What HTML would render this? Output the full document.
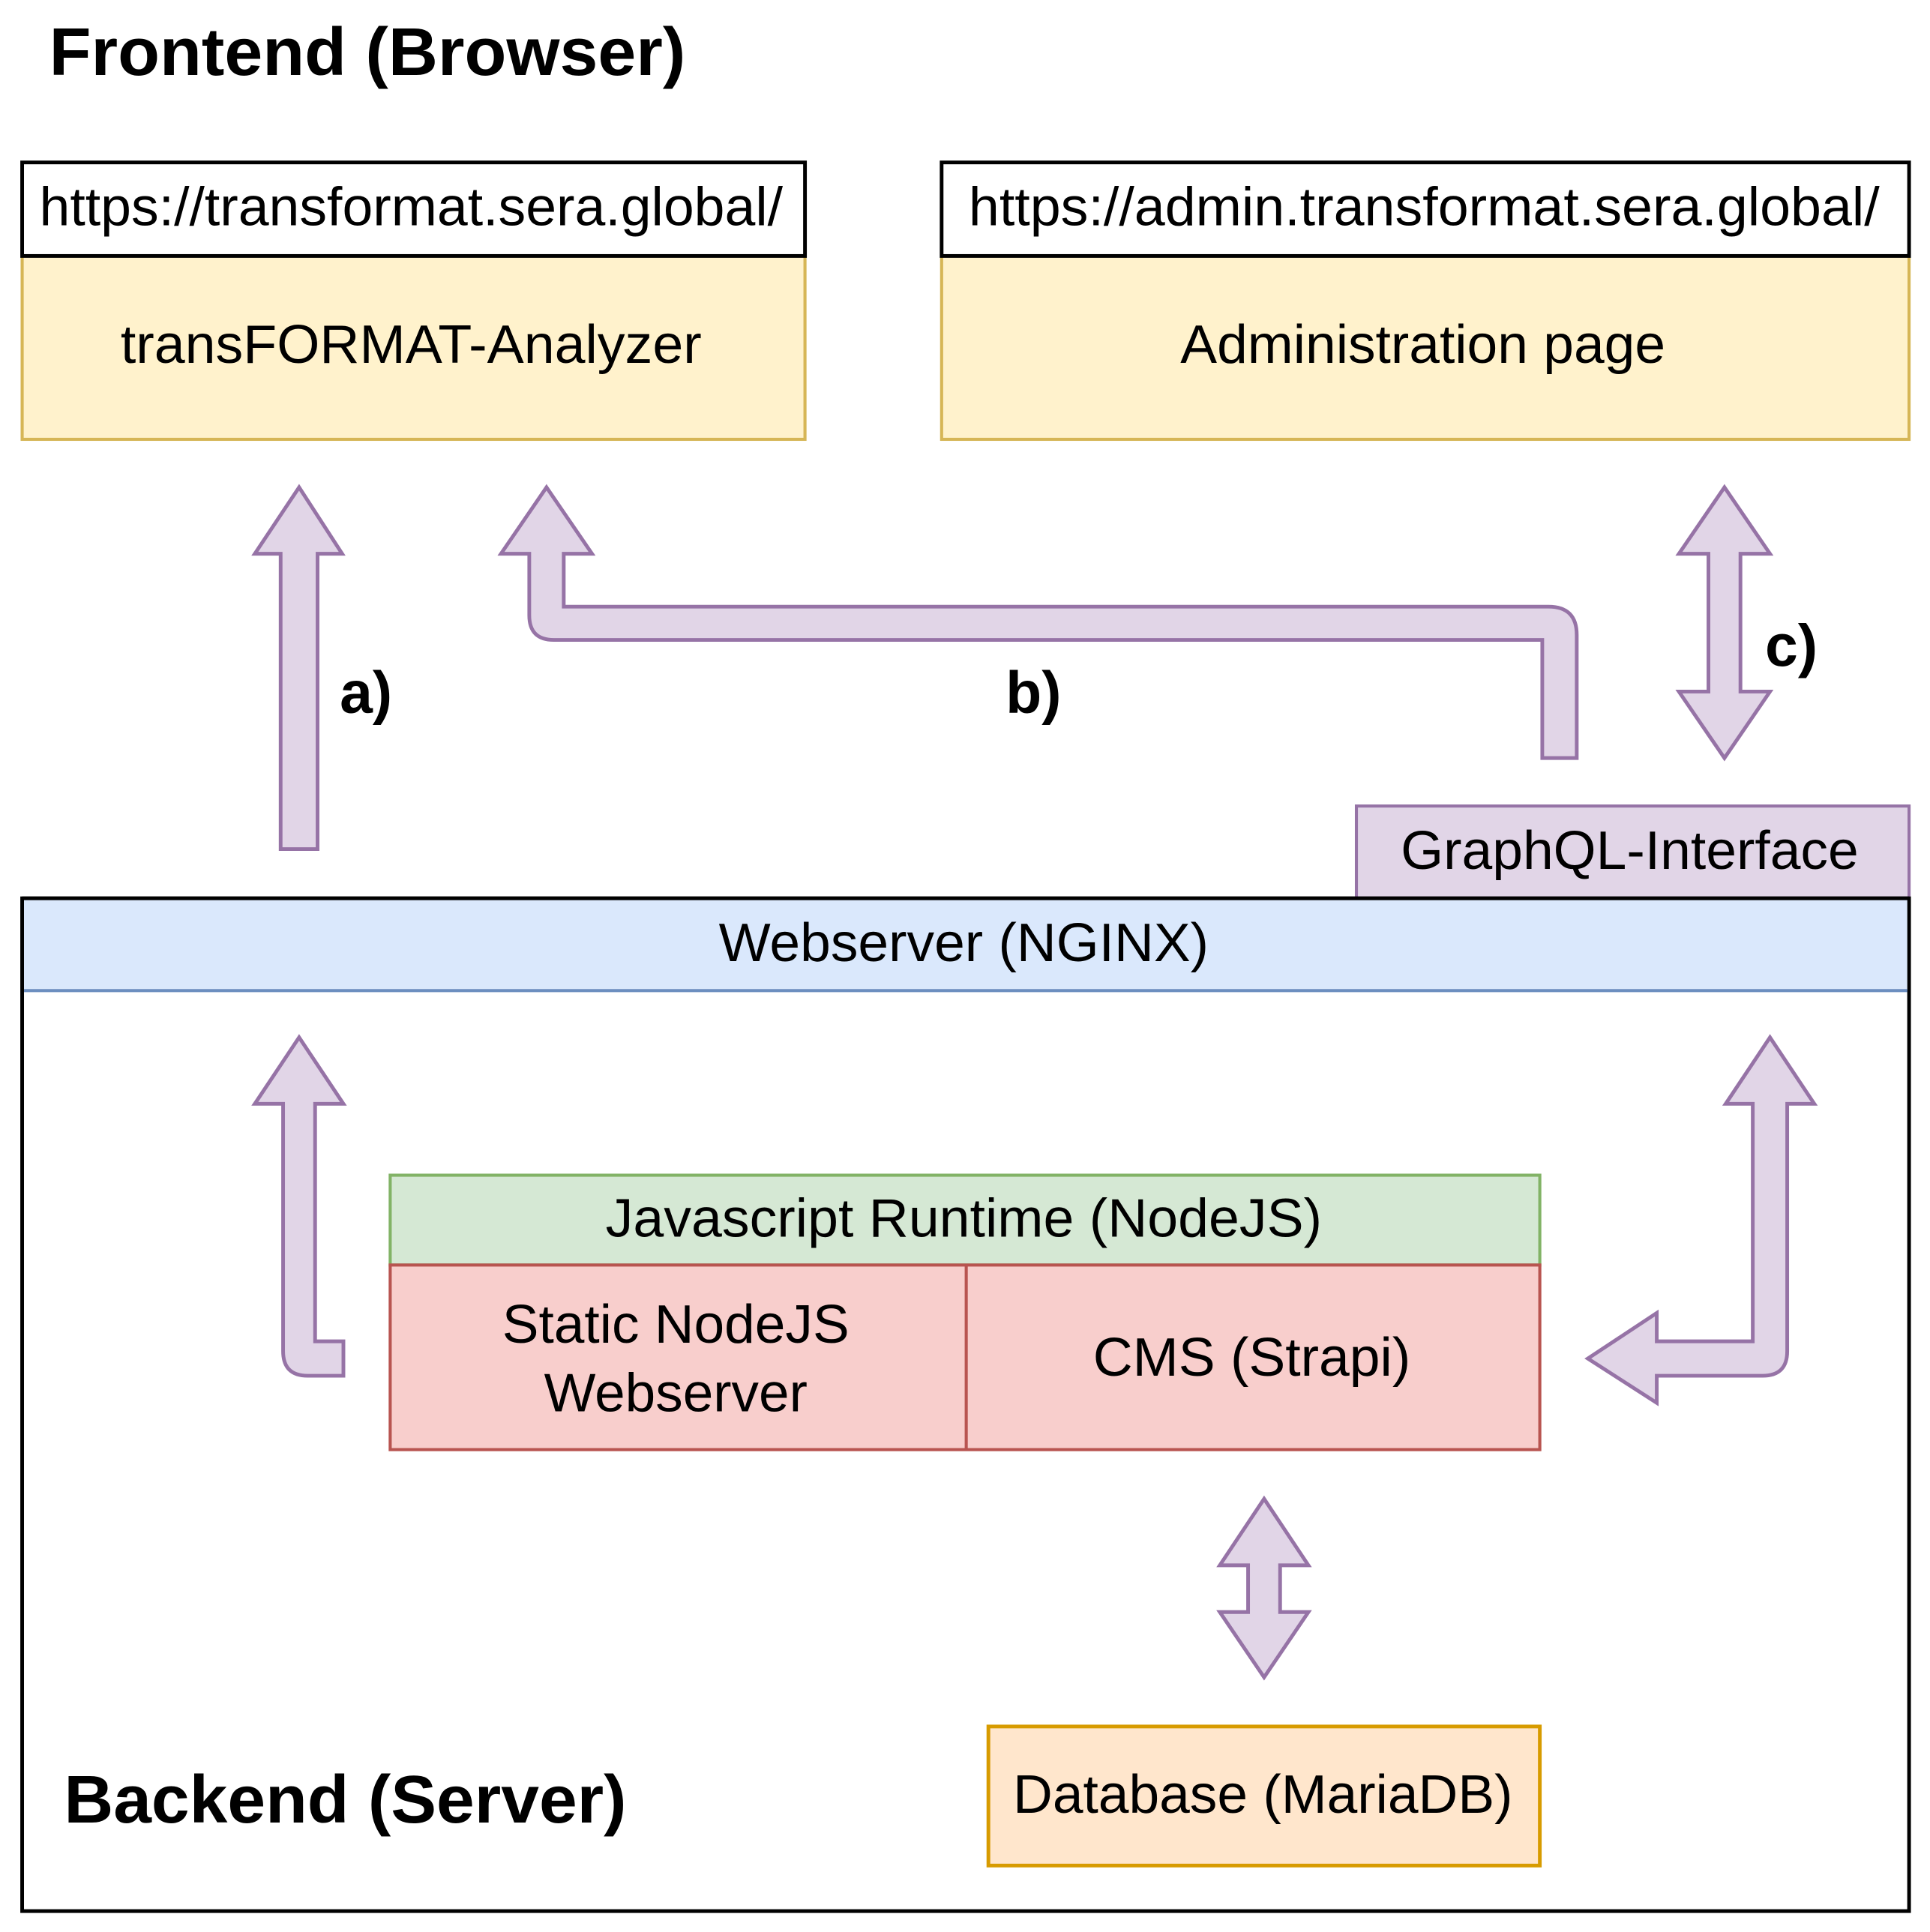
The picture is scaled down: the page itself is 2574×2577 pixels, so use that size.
<!DOCTYPE html>
<html><head><meta charset="utf-8"><style>
html,body{margin:0;padding:0;background:#fff;}
svg{display:block;}
text{font-family:"Liberation Sans",Arial,sans-serif;fill:#000;}
</style></head><body>
<svg width="2574" height="2577" viewBox="0 0 1568 1570" preserveAspectRatio="none" xmlns="http://www.w3.org/2000/svg">
<rect x="0" y="0" width="1568" height="1570" fill="#fff"/>
<text x="40" y="61" font-size="55" font-weight="bold" textLength="517" lengthAdjust="spacingAndGlyphs">Frontend (Browser)</text>

<!-- Box 1 -->
<rect x="18" y="208" width="636" height="149" fill="#fff2cc" stroke="#d6b656" stroke-width="2.5"/>
<rect x="18" y="132" width="636" height="76" fill="#fff" stroke="#000" stroke-width="3"/>
<text x="334" y="183" font-size="44" text-anchor="middle" textLength="604" lengthAdjust="spacingAndGlyphs">https://transformat.sera.global/</text>
<text x="334" y="295" font-size="44" text-anchor="middle" textLength="472" lengthAdjust="spacingAndGlyphs">transFORMAT-Analyzer</text>

<!-- Box 2 -->
<rect x="765" y="208" width="786" height="149" fill="#fff2cc" stroke="#d6b656" stroke-width="2.5"/>
<rect x="765" y="132" width="786" height="76" fill="#fff" stroke="#000" stroke-width="3"/>
<text x="1157" y="183" font-size="44" text-anchor="middle" textLength="740" lengthAdjust="spacingAndGlyphs">https://admin.transformat.sera.global/</text>
<text x="1156" y="295" font-size="44" text-anchor="middle" textLength="394" lengthAdjust="spacingAndGlyphs">Administration page</text>

<g fill="#e1d5e7" stroke="#9673a6" stroke-width="3" stroke-linejoin="miter">
<path d="M228,690 L258,690 L258,450 L278,450 L243,396 L207,450 L228,450 Z"/>
<path d="M430,450 L407,450 L444,396 L481,450 L458,450 L458,493 L1258,493 Q1281,493 1281,516 L1281,616 L1253,616 L1253,520 L450,520 Q430,520 430,500 Z"/>
<path d="M1388,450 L1364,450 L1401,396 L1438,450 L1414,450 L1414,562 L1438,562 L1401,616 L1364,562 L1388,562 Z"/>
</g>
<text x="276" y="579" font-size="48" font-weight="bold">a)</text>
<text x="817" y="579" font-size="48" font-weight="bold">b)</text>
<text x="1434" y="541" font-size="48" font-weight="bold">c)</text>

<!-- GraphQL -->
<rect x="1102" y="655" width="449" height="75" fill="#e1d5e7" stroke="#9673a6" stroke-width="2.5"/>
<text x="1324" y="706" font-size="44" text-anchor="middle" textLength="372" lengthAdjust="spacingAndGlyphs">GraphQL-Interface</text>

<!-- Backend -->
<rect x="18" y="730" width="1533" height="823" fill="#fff" stroke="#000" stroke-width="3"/>
<rect x="19.5" y="731.5" width="1530" height="73" fill="#dae8fc"/>
<line x1="19.5" y1="805" x2="1549.5" y2="805" stroke="#6c8ebf" stroke-width="2.5"/>
<line x1="18" y1="730" x2="1551" y2="730" stroke="#000" stroke-width="3"/>
<text x="783" y="781" font-size="44" text-anchor="middle" textLength="398" lengthAdjust="spacingAndGlyphs">Webserver (NGINX)</text>

<!-- NodeJS -->
<rect x="317" y="955" width="934" height="73" fill="#d5e8d4" stroke="#82b366" stroke-width="2.5"/>
<text x="783" y="1005" font-size="44" text-anchor="middle" textLength="582" lengthAdjust="spacingAndGlyphs">Javascript Runtime (NodeJS)</text>
<rect x="317" y="1028" width="934" height="150" fill="#f8cecc" stroke="#b85450" stroke-width="2.5"/>
<line x1="785" y1="1028" x2="785" y2="1178" stroke="#b85450" stroke-width="2.5"/>
<text x="549" y="1091" font-size="44" text-anchor="middle" textLength="282" lengthAdjust="spacingAndGlyphs">Static NodeJS</text>
<text x="549" y="1147" font-size="44" text-anchor="middle" textLength="214" lengthAdjust="spacingAndGlyphs">Webserver</text>
<text x="1017" y="1118" font-size="44" text-anchor="middle" textLength="258" lengthAdjust="spacingAndGlyphs">CMS (Strapi)</text>

<g fill="#e1d5e7" stroke="#9673a6" stroke-width="3">
<path d="M256,1090 L279,1090 L279,1118 L250,1118 Q230,1118 230,1098 L230,897 L207,897 L243,843 L279,897 L256,897 Z"/>
<path d="M1424,897 L1402,897 L1438,843 L1474,897 L1452,897 L1452,1098 Q1452,1118 1432,1118 L1346,1118 L1346,1140 L1290,1104 L1346,1067 L1346,1090 L1424,1090 Z"/>
<path d="M1014,1272 L991,1272 L1027,1218 L1063,1272 L1040,1272 L1040,1310 L1063,1310 L1027,1363 L991,1310 L1014,1310 Z"/>
</g>

<!-- DB -->
<rect x="803" y="1403" width="448" height="113" fill="#ffe6cc" stroke="#d79b00" stroke-width="3"/>
<text x="1026" y="1473" font-size="44" text-anchor="middle" textLength="406" lengthAdjust="spacingAndGlyphs">Database (MariaDB)</text>

<text x="52" y="1481" font-size="55" font-weight="bold" textLength="457" lengthAdjust="spacingAndGlyphs">Backend (Server)</text>
</svg>
</body></html>
